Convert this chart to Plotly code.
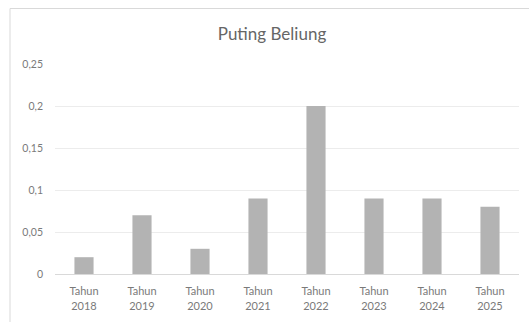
import plotly.graph_objects as go

categories = ["Tahun<br>2018", "Tahun<br>2019", "Tahun<br>2020", "Tahun<br>2021",
              "Tahun<br>2022", "Tahun<br>2023", "Tahun<br>2024", "Tahun<br>2025"]
values = [0.02, 0.07, 0.03, 0.09, 0.20, 0.09, 0.09, 0.08]
ytick_vals = [0, 0.05, 0.1, 0.15, 0.2, 0.25]
ytick_text = ["0", "0,05", "0,1", "0,15", "0,2", "0,25"]

W, H = 529, 322
L, R, T, B = 55, 10, 64, 46
pw, ph = W - L - R, H - T - B

fig = go.Figure(go.Bar(x=categories, y=values, marker_color="#b3b3b3",
                       marker_line_width=0, width=0.33))

fig.update_layout(
    width=W, height=H,
    margin=dict(l=L, r=R, t=T, b=B),
    paper_bgcolor="white", plot_bgcolor="white",
    font=dict(family="Lato, Open Sans, sans-serif", color="#7a7a7a", size=10),
    title=dict(text="Puting Beliung", x=272 / W, xanchor="center",
               y=1 - 34 / H, yanchor="middle",
               font=dict(size=17, color="#666666", family="Lato, Open Sans, sans-serif")),
    showlegend=False,
    shapes=[dict(type="rect", xref="paper", yref="paper",
                 x0=(10 - L) / pw, x1=(W + 20 - L) / pw,
                 y0=-(B + 20) / ph, y1=1 + (T - 8) / ph,
                 line=dict(color="#d9d9d9", width=1), fillcolor="rgba(0,0,0,0)",
                 layer="below")],
)
fig.update_xaxes(showgrid=False, showline=True, linecolor="#d9d9d9", linewidth=1,
                 ticks="", tickfont=dict(size=11, color="#7a7a7a"), ticklabelstandoff=7)
fig.update_yaxes(range=[0, 0.25], tickvals=ytick_vals, ticktext=ytick_text,
                 showgrid=True, gridcolor="#ececec", gridwidth=1, zeroline=False,
                 showline=False, ticks="", ticklabelstandoff=11,
                 tickfont=dict(size=10.5, color="#7a7a7a"))

fig.write_html("out.html")
